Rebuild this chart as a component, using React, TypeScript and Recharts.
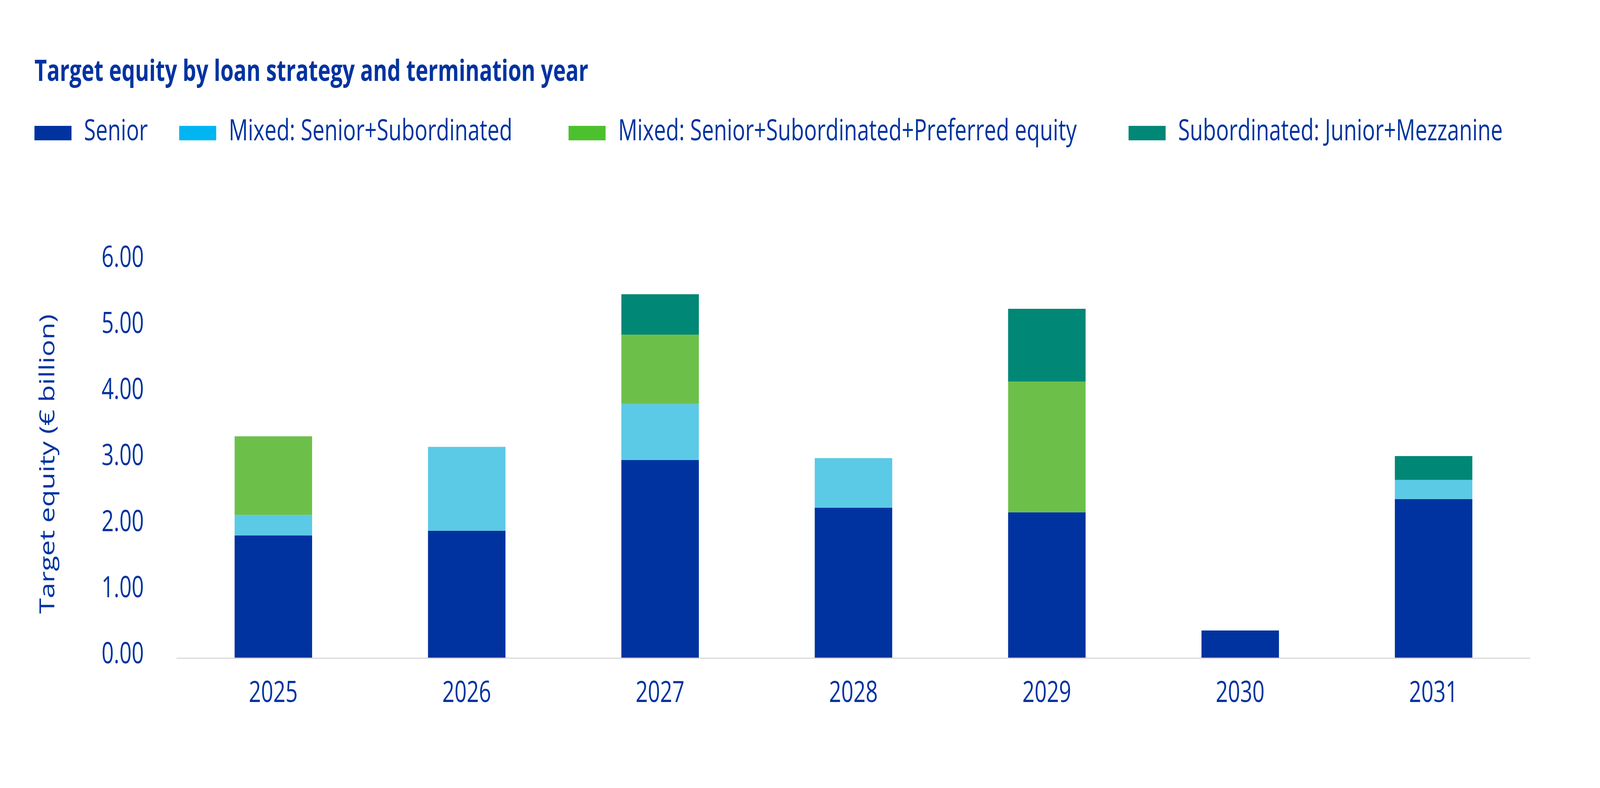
import { BarChart, Bar, XAxis, YAxis, Label } from 'recharts';

// values (€ billion)
const years = ['2025', '2026', '2027', '2028', '2029', '2030', '2031'];
const senior = [1.86, 1.93, 3.0, 2.28, 2.21, 0.42, 2.41];
const mixedSub = [0.31, 1.27, 0.85, 0.75, 0, 0, 0.29];
const mixedPref = [1.19, 0, 1.05, 0, 1.98, 0, 0];
const subordinated = [0, 0, 0.61, 0, 1.1, 0, 0.36];
const yTicks = [0, 1, 2, 3, 4, 5, 6];

const seriesNames = [
  'Senior',
  'Mixed: Senior+Subordinated',
  'Mixed: Senior+Subordinated+Preferred equity',
  'Subordinated: Junior+Mezzanine',
];
const seriesKeys = ['senior', 'mixedSub', 'mixedPref', 'subordinated'];
const barColors = ['#0033A0', '#5BCAE6', '#6CC04A', '#008775'];
const legendColors = ['#0033A0', '#00B5F1', '#4CC12E', '#008775'];
const legendX = [121, 629, 1996, 3962];

const data = years.map((year, i) => ({
  year,
  senior: senior[i],
  mixedSub: mixedSub[i],
  mixedPref: mixedPref[i],
  subordinated: subordinated[i],
}));

const W = 5617;
const H = 2016;
const FONT = '"Open Sans", "Noto Sans", sans-serif';
const TEXT = '#0033A0';

const YTick = ({ x, y, payload }: any) => (
  <text x={x} y={y - 14} dy="0.36em" textAnchor="end" fill={TEXT} fontSize={75} fontFamily={FONT}>
    {Number(payload.value).toFixed(2)}
  </text>
);

const XTick = ({ x, y, payload }: any) => (
  <text x={x} y={y} textAnchor="middle" fill={TEXT} fontSize={75} fontFamily={FONT}>
    {payload.value}
  </text>
);

export default function App() {
  // the browser caps the window width, so squeeze the layout to what is there
  const sx = Math.min(1, window.innerWidth / W);

  return (
    <div
      style={{
        position: 'absolute',
        left: 0,
        top: 0,
        width: W,
        height: H,
        background: '#fff',
        fontFamily: FONT,
        transform: `scale(${sx}, 1)`,
        transformOrigin: '0 0',
      }}
    >
      <div style={{ position: 'absolute', left: 121, top: 141, fontSize: 75, lineHeight: 1, fontWeight: 700, color: TEXT, whiteSpace: 'nowrap' }}>
        Target equity by loan strategy and termination year
      </div>
      {seriesNames.map((name, i) => (
        <div key={name}>
          <div style={{ position: 'absolute', left: legendX[i], top: 322, width: 130, height: 37, background: legendColors[i] }} />
          <div style={{ position: 'absolute', left: legendX[i] + 174, top: 293, fontSize: 75, lineHeight: 1, color: TEXT, whiteSpace: 'nowrap' }}>
            {name}
          </div>
        </div>
      ))}
      <div style={{ position: 'absolute', left: 0, top: 0 }}>
        <BarChart
          width={W}
          height={H}
          data={data}
          barCategoryGap="30%"
          margin={{ top: 670, right: 245, bottom: H - 1684 - 120, left: 0 }}
        >
          <XAxis
            dataKey="year"
            height={120}
            tickLine={false}
            tickMargin={106}
            axisLine={{ stroke: '#D9D9D9', strokeWidth: 3 }}
            tick={<XTick />}
          />
          <YAxis
            width={620}
            domain={[0, 6]}
            ticks={yTicks}
            axisLine={false}
            tickLine={false}
            tickMargin={109}
            tick={<YTick />}
          >
            <Label
              content={() => (
                <text
                  x={0}
                  y={0}
                  transform="translate(190 1187) rotate(-90)"
                  textAnchor="middle"
                  fill={TEXT}
                  fontSize={72}
                  fontFamily={FONT}
                >
                  Target equity (€ billion)
                </text>
              )}
            />
          </YAxis>
          {seriesKeys.map((key, i) => (
            <Bar key={key} dataKey={key} name={seriesNames[i]} stackId="a" fill={barColors[i]} isAnimationActive={false} />
          ))}
        </BarChart>
      </div>
    </div>
  );
}
